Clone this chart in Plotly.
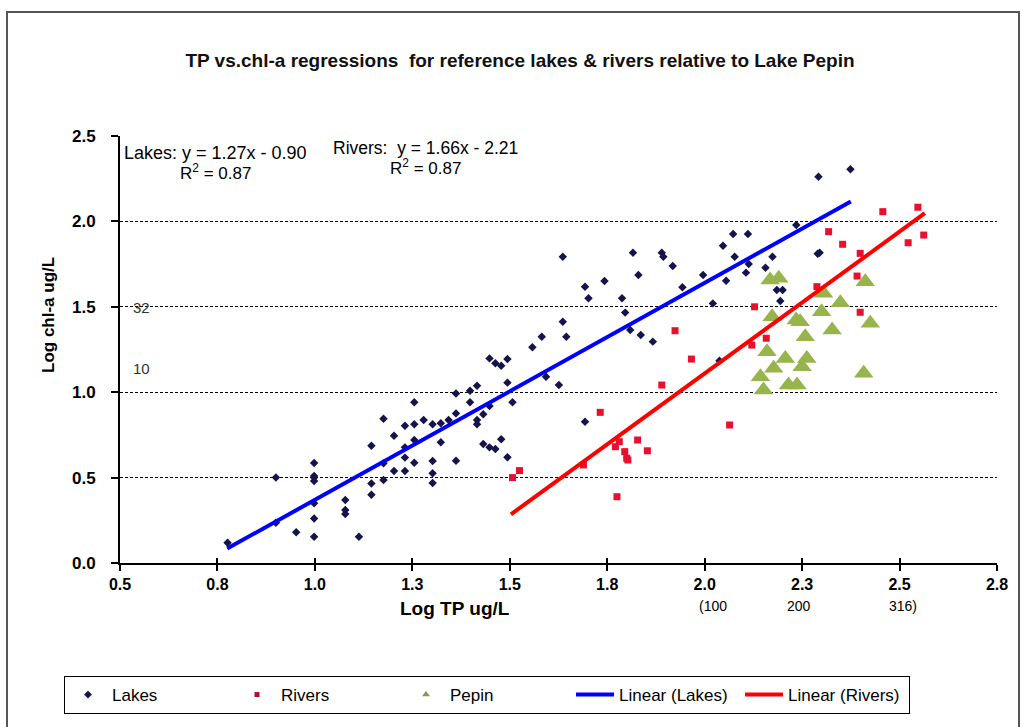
import plotly.graph_objects as go

# Log10 TP (ug/L) and log10 chl-a (ug/L) for the reference lakes
lakes_tp = [0.776, 0.900, 0.900, 0.952, 0.998, 0.998, 0.998, 0.998, 0.998, 0.998, 0.998,
            1.078, 1.078, 1.078, 1.113, 1.145, 1.145, 1.145, 1.176, 1.176, 1.176, 1.203,
            1.203, 1.231, 1.231, 1.231, 1.231, 1.255, 1.255, 1.255, 1.255, 1.279, 1.302,
            1.302, 1.302, 1.302, 1.323, 1.323, 1.343, 1.362, 1.362, 1.362, 1.398, 1.398,
            1.416, 1.416, 1.416, 1.432, 1.432, 1.448, 1.448, 1.448, 1.463, 1.463, 1.478,
            1.478, 1.494, 1.494, 1.494, 1.507, 1.558, 1.582, 1.593, 1.626, 1.636, 1.636,
            1.645, 1.693, 1.693, 1.702, 1.743, 1.788, 1.796, 1.809, 1.816, 1.830, 1.836,
            1.867, 1.890, 1.894, 1.918, 1.943, 1.996, 2.021, 2.038, 2.047, 2.055, 2.073,
            2.077, 2.106, 2.111, 2.113, 2.156, 2.174, 2.185, 2.200, 2.194, 2.235, 2.292,
            2.290, 2.295, 2.374]
lakes_chl = [0.119, 0.500, 0.236, 0.180, 0.585, 0.510, 0.500, 0.480, 0.350, 0.260, 0.154,
             0.369, 0.310, 0.287, 0.154, 0.687, 0.466, 0.400, 0.845, 0.584, 0.486, 0.745,
             0.539, 0.804, 0.677, 0.617, 0.539, 0.941, 0.812, 0.720, 0.587, 0.837, 0.812,
             0.597, 0.525, 0.468, 0.818, 0.707, 0.837, 0.993, 0.876, 0.599, 1.009, 0.941,
             1.038, 0.837, 0.812, 0.871, 0.697, 0.919, 1.198, 0.677, 1.169, 0.667, 1.155,
             0.724, 1.194, 1.056, 0.619, 0.941, 1.263, 1.325, 1.091, 1.042, 1.793, 1.413,
             1.325, 1.618, 0.827, 1.550, 1.651, 1.550, 1.466, 1.364, 1.817, 1.686, 1.335,
             1.296, 1.817, 1.793, 1.739, 1.614, 1.686, 1.520, 1.184, 1.858, 1.653, 1.926,
             1.793, 1.700, 1.926, 1.750, 1.729, 1.793, 1.598, 1.598, 1.534, 1.979, 2.262,
             1.810, 1.817, 2.305]

# Reference rivers
rivers_tp = [1.507, 1.525, 1.689, 1.732, 1.771, 1.781, 1.775, 1.795, 1.800, 1.803, 1.828,
             1.853, 1.890, 1.924, 1.966, 2.064, 2.128, 2.121, 2.158, 2.318, 2.288, 2.354,
             2.399, 2.391, 2.399, 2.457, 2.522, 2.547, 2.562]
rivers_chl = [0.500, 0.541, 0.574, 0.882, 0.681, 0.710, 0.388, 0.652, 0.613, 0.603, 0.720,
              0.657, 1.042, 1.360, 1.194, 0.808, 1.500, 1.276, 1.316, 1.940, 1.618, 1.866,
              1.813, 1.680, 1.468, 2.057, 1.875, 2.083, 1.920]

# Lake Pepin
pepin_tp = [2.168, 2.190, 2.173, 2.235, 2.245, 2.258, 2.300, 2.305, 2.160, 2.207, 2.177,
            2.262, 2.250, 2.143, 2.151, 2.215, 2.237, 2.348, 2.412, 2.327, 2.425, 2.408]
pepin_chl = [1.657, 1.667, 1.442, 1.423, 1.413, 1.325, 1.471, 1.579, 1.237, 1.198, 1.140,
             1.198, 1.149, 1.091, 1.013, 1.042, 1.042, 1.524, 1.647, 1.364, 1.403, 1.111]

# Fitted regressions (slope, intercept) and the TP span each fit covers
lakes_fit = (1.27, -0.90)
rivers_fit = (1.66, -2.21)
lakes_fit_span = [0.775, 2.375]
rivers_fit_span = [1.503, 2.565]

# Axis ticks
x_ticks = [0.5, 0.75, 1.0, 1.25, 1.5, 1.75, 2.0, 2.25, 2.5, 2.75]
x_tick_text = ["0.5", "0.8", "1.0", "1.3", "1.5", "1.8", "2.0", "2.3", "2.5", "2.8"]
y_ticks = [0.0, 0.5, 1.0, 1.5, 2.0, 2.5]
y_tick_text = ["0.0", "0.5", "1.0", "1.5", "2.0", "2.5"]

FONT = "Liberation Sans, Arial, sans-serif"
W, H = 1027, 727
L, R, T, B = 120, 997, 136, 563  # plot area in pixels

LAKE_C, RIVER_C, PEPIN_C = "#14144a", "#e8102e", "#98b44c"


def px_x(p):
    return (p - L) / (R - L)


def px_y(p):
    return (B - p) / (B - T)


def fit_line(fit, span):
    m, c = fit
    return span, [m * v + c for v in span]


fig = go.Figure()

# scatter series (legend entries come from the small-marker proxies below)
fig.add_trace(go.Scatter(
    x=lakes_tp, y=lakes_chl, mode="markers", name="Lakes", legendgroup="lakes",
    showlegend=False, marker=dict(symbol="diamond", size=6.5, color=LAKE_C)))
fig.add_trace(go.Scatter(
    x=rivers_tp, y=rivers_chl, mode="markers", name="Rivers", legendgroup="rivers",
    showlegend=False, marker=dict(symbol="square", size=7, color=RIVER_C)))
fig.add_trace(go.Scatter(
    x=pepin_tp, y=pepin_chl, mode="markers", name="Pepin", legendgroup="pepin",
    showlegend=False, marker=dict(symbol="triangle-up", size=17, color=PEPIN_C)))

for name, group, sym, size, col in [("Lakes", "lakes", "diamond", 6, LAKE_C),
                                     ("Rivers", "rivers", "square", 5, "#b0102e"),
                                     ("Pepin", "pepin", "triangle-up", 7, "#8a9a50")]:
    fig.add_trace(go.Scatter(x=[None], y=[None], mode="markers", name=name,
                             legendgroup=group, hoverinfo="skip",
                             marker=dict(symbol=sym, size=size, color=col)))

lx, ly = fit_line(lakes_fit, lakes_fit_span)
fig.add_trace(go.Scatter(x=lx, y=ly, mode="lines", name="Linear (Lakes)",
                         line=dict(color="#0000ff", width=4)))
rx, ry = fit_line(rivers_fit, rivers_fit_span)
fig.add_trace(go.Scatter(x=rx, y=ry, mode="lines", name="Linear (Rivers)",
                         line=dict(color="#ff0000", width=4)))

# companion axis carrying the inner half of the crossing x ticks
fig.add_trace(go.Scatter(x=[0.5], y=[0], xaxis="x2", mode="markers",
                         marker=dict(opacity=0), showlegend=False, hoverinfo="skip"))

fig.update_layout(
    width=W, height=H,
    margin=dict(l=L, r=W - R, t=T, b=H - B),
    paper_bgcolor="white", plot_bgcolor="white",
    font=dict(family=FONT, color="black"),
    title=dict(
        text="<b>TP vs.chl-a regressions  for reference lakes & rivers relative to Lake Pepin</b>",
        font=dict(family=FONT, size=19, color="#111"),
        x=520 / W, xanchor="center", xref="container",
        y=1 - 60 / H, yanchor="middle", yref="container"),
    xaxis=dict(
        range=[0.5, 2.75], tickvals=x_ticks, ticktext=x_tick_text,
        ticks="outside", ticklen=6, tickwidth=1.5, tickcolor="black",
        showline=True, linecolor="black", linewidth=2,
        showgrid=False, zeroline=False,
        tickfont=dict(family=FONT, size=16, color="black", weight="bold")),
    xaxis2=dict(
        overlaying="x", anchor="y", side="bottom", range=[0.5, 2.75],
        tickvals=x_ticks, ticks="inside", ticklen=5, tickwidth=1.5,
        tickcolor="black", showticklabels=False, showline=False,
        showgrid=False, zeroline=False),
    yaxis=dict(
        range=[0, 2.5], tickvals=y_ticks, ticktext=y_tick_text,
        ticks="outside", ticklen=7, tickwidth=1.5, tickcolor="black",
        ticklabelstandoff=12,
        showline=True, linecolor="black", linewidth=2,
        showgrid=True, gridcolor="black", gridwidth=1, griddash="3px,2px",
        zeroline=False,
        tickfont=dict(family=FONT, size=17, color="black", weight="bold")),
    legend=dict(
        orientation="h", x=px_x(487), xanchor="center",
        y=px_y(676), yanchor="top",
        bordercolor="black", borderwidth=1, bgcolor="white",
        font=dict(family=FONT, size=17, color="black"),
        entrywidth=116, entrywidthmode="pixels", itemwidth=38, tracegroupgap=0),
    showlegend=True,
)

# page frame around the chart
fig.add_shape(type="rect", xref="paper", yref="paper",
              x0=px_x(7), x1=px_x(1019), y0=px_y(760), y1=px_y(12),
              line=dict(color="#555", width=2), fillcolor="rgba(0,0,0,0)",
              layer="below")

annotations = [
    dict(text="<b>Log TP ug/L</b>", x=px_x(455), y=px_y(608), size=19, anchor="center"),
    dict(text="(100", x=px_x(713), y=px_y(606), size=14, anchor="center"),
    dict(text="200", x=px_x(799), y=px_y(606), size=14, anchor="center"),
    dict(text="316)", x=px_x(903), y=px_y(606), size=14, anchor="center"),
    dict(text="Lakes: y = 1.27x - 0.90", x=px_x(122), y=px_y(153), size=18, anchor="left"),
    dict(text="R<sup>2</sup> = 0.87", x=px_x(178), y=px_y(172), size=17, anchor="left"),
    dict(text="Rivers:  y = 1.66x - 2.21", x=px_x(331), y=px_y(148), size=17.5, anchor="left"),
    dict(text="R<sup>2</sup> = 0.87", x=px_x(388), y=px_y(167), size=17, anchor="left"),
    dict(text="32", x=px_x(131), y=px_y(307), size=15, anchor="left", color="#333"),
    dict(text="10", x=px_x(131), y=px_y(368), size=15, anchor="left", color="#333"),
]
for a in annotations:
    fig.add_annotation(
        text=a["text"], x=a["x"], y=a["y"], xref="paper", yref="paper",
        xanchor=a["anchor"], yanchor="middle", showarrow=False,
        font=dict(family=FONT, size=a["size"], color=a.get("color", "black")))

fig.add_annotation(
    text="<b>Log chl-a ug/L</b>", x=px_x(48), y=px_y(315), xref="paper", yref="paper",
    textangle=-90, xanchor="center", yanchor="middle", showarrow=False,
    font=dict(family=FONT, size=17, color="black"))

fig.write_html("out.html")
